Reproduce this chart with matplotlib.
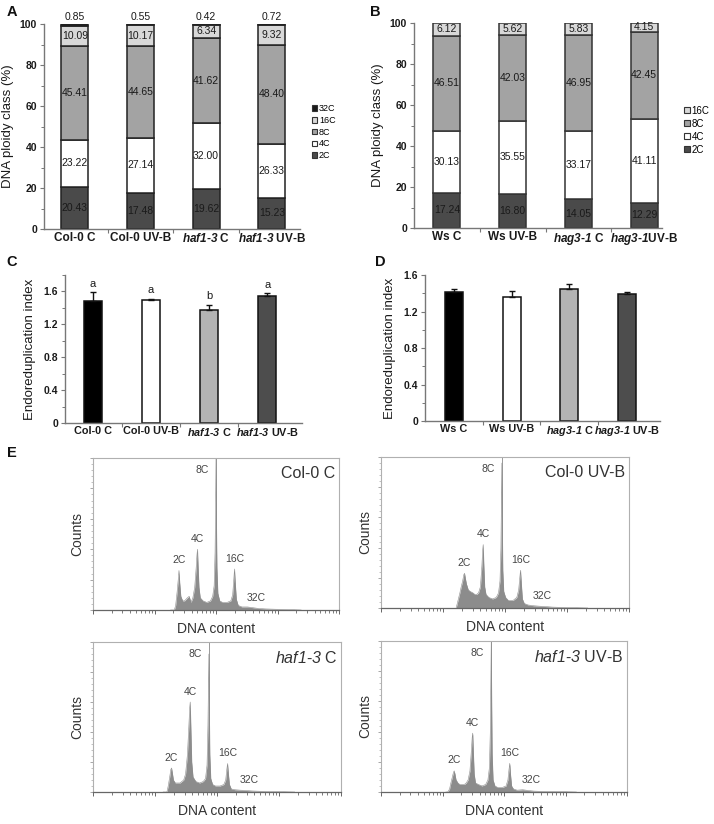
import matplotlib
matplotlib.use('Agg')
import matplotlib.pyplot as plt
import numpy as np
from matplotlib.patches import Patch
from matplotlib.ticker import MultipleLocator, FixedLocator, NullFormatter, FuncFormatter, LogLocator

plt.rcParams['font.family'] = ['Liberation Sans', 'DejaVu Sans']
plt.rcParams['mathtext.fontset'] = 'custom'
plt.rcParams['mathtext.it'] = 'Liberation Sans:italic:bold'
plt.rcParams['mathtext.rm'] = 'Liberation Sans:italic:bold'
plt.rcParams['mathtext.sf'] = 'Liberation Sans:italic'

# ---------------- data ----------------
ploidy_classes_A = ['2C', '4C', '8C', '16C', '32C']
labels_A = ['Col-0 C', 'Col-0 UV-B', r'$\mathit{haf1}$-$\mathit{3}$ C', r'$\mathit{haf1}$-$\mathit{3}$ UV-B']
pct_A_2C = [20.43, 17.48, 19.62, 15.23]
pct_A_4C = [23.22, 27.14, 32.00, 26.33]
pct_A_8C = [45.41, 44.65, 41.62, 48.40]
pct_A_16C = [10.09, 10.17, 6.34, 9.32]
pct_A_32C = [0.85, 0.55, 0.42, 0.72]

ploidy_classes_B = ['2C', '4C', '8C', '16C']
labels_B = ['Ws C', 'Ws UV-B', r'$\mathit{hag3}$-$\mathit{1}$ C', r'$\mathit{hag3}$-$\mathit{1}$UV-B']
pct_B_2C = [17.24, 16.80, 14.05, 12.29]
pct_B_4C = [30.13, 35.55, 33.17, 41.11]
pct_B_8C = [46.51, 42.03, 46.95, 42.45]
pct_B_16C = [6.12, 5.62, 5.83, 4.15]

labels_C = ['Col-0 C', 'Col-0 UV-B', r'$\mathit{haf1}$-$\mathit{3}$ C', r'$\mathit{haf1}$-$\mathit{3}$ UV-B']
endo_C = [1.48, 1.50, 1.37, 1.54]
endo_C_err = [0.11, 0.01, 0.07, 0.04]
letters_C = ['a', 'a', 'b', 'a']

labels_D = ['Ws C', 'Ws UV-B', r'$\mathit{hag3}$-$\mathit{1}$ C', r'$\mathit{hag3}$-$\mathit{1}$ UV-B']
endo_D = [1.41, 1.36, 1.45, 1.39]
endo_D_err = [0.04, 0.06, 0.05, 0.02]

# flow cytometry profiles: position in ploidy steps (0=2C,1=4C,2=8C,3=16C,4=32C)
ploidy_u = [-0.45, -0.35, -0.25, -0.18, -0.1, -0.04, 0.0, 0.04, 0.1, 0.2,
            0.3, 0.45, 0.55, 0.65, 0.75, 0.85, 0.93, 0.97, 1.0, 1.03,
            1.08, 1.15, 1.3, 1.5, 1.7, 1.82, 1.9, 1.95, 1.98, 2.0,
            2.02, 2.05, 2.1, 2.2, 2.35, 2.6, 2.8, 2.9, 2.96, 3.0,
            3.04, 3.1, 3.2, 3.4, 3.7, 4.0, 4.3, 4.7, 5.2, 6.0, 6.6]
counts_col0_C = [0, 0, 0, 3, 12, 20, 26, 18, 9, 6,
                 6, 8, 9, 5, 8, 15, 28, 36, 40, 30,
                 15, 8, 6, 5, 6, 9, 16, 38, 72, 100,
                 62, 28, 11, 6, 5, 5, 6, 10, 20, 27,
                 18, 7, 3, 2, 2, 1.5, 1, 0.7, 0.5, 0.3, 0]
counts_col0_UVB = [0, 5, 10, 14, 18, 22, 23, 20, 16, 12,
                   11, 10, 9, 9, 10, 14, 28, 38, 42, 30,
                   14, 9, 7, 6, 7, 10, 18, 40, 75, 96,
                   60, 25, 11, 7, 5, 5, 7, 12, 20, 25,
                   17, 6, 3, 2, 1.5, 1.2, 1, 0.6, 0.4, 0.2, 0]
counts_haf_C = [0, 0, 0, 4, 10, 15, 16, 13, 8, 6,
                6, 6, 7, 8, 12, 25, 45, 56, 60, 45,
                20, 10, 7, 6, 7, 9, 18, 45, 75, 92,
                60, 25, 9, 5, 4, 4, 5, 8, 15, 19,
                13, 5, 2, 1.5, 1.2, 1, 0.7, 0.5, 0.3, 0.2, 0]
counts_haf_UVB = [0, 0, 2, 6, 10, 13, 14, 12, 8, 6,
                  5, 5, 5, 6, 8, 14, 28, 36, 39, 28,
                  12, 6, 5, 4, 5, 8, 16, 40, 75, 100,
                  65, 25, 8, 4, 3, 3, 4, 8, 15, 19,
                  12, 4, 2, 1.2, 1.5, 1, 0.6, 0.4, 0.3, 0.2, 0]
channel_8C = [100, 89, 74, 62]
hist_titles = ['Col-0 C', 'Col-0 UV-B', r'$\mathsf{haf1}$-$\mathsf{3}$ C', r'$\mathsf{haf1}$-$\mathsf{3}$ UV-B']
peak_names = ['2C', '4C', '8C', '16C', '32C']

# ---------------- figure ----------------
W, H = 714, 824
fig = plt.figure(figsize=(W / 100, H / 100), dpi=100)


def ax_px(x0, y0, x1, y1):
    return fig.add_axes([x0 / W, 1 - y1 / H, (x1 - x0) / W, (y1 - y0) / H])


SPINE = '#777777'
TXT = '#1a1a1a'


def style_axes(ax, ncat):
    for s in ['top', 'right']:
        ax.spines[s].set_visible(False)
    for s in ['left', 'bottom']:
        ax.spines[s].set_color(SPINE)
        ax.spines[s].set_linewidth(1.0)
    ax.tick_params(axis='y', which='major', colors=SPINE, labelcolor=TXT, direction='out',
                   length=3, width=0.8, pad=2, labelsize=7.5)
    ax.tick_params(axis='y', which='minor', colors=SPINE, direction='out', length=2, width=0.7)
    for t in ax.get_yticklabels():
        t.set_fontweight('bold')
    ax.set_xticks(np.arange(ncat))
    ax.xaxis.set_minor_locator(FixedLocator(np.arange(ncat - 1) + 0.5))
    ax.tick_params(axis='x', which='major', length=0, pad=2, labelcolor=TXT)
    ax.tick_params(axis='x', which='minor', length=3, colors=SPINE, width=0.8)


def fmt_num(v, pos):
    return '0' if v == 0 else ('%g' % v)


col_stack = {'2C': '#4a4a4a', '4C': '#ffffff', '8C': '#a3a3a3', '16C': '#d8d8d8', '32C': '#1a1a1a'}

# ---- Panel A ----
axA = ax_px(44, 24, 300, 229)
xA = np.arange(4)
seriesA = [pct_A_2C, pct_A_4C, pct_A_8C, pct_A_16C, pct_A_32C]
bot = np.zeros(4)
for name, vals in zip(ploidy_classes_A, seriesA):
    vals = np.array(vals)
    axA.bar(xA, vals, 0.41, bottom=bot, color=col_stack[name], edgecolor='#222222', lw=1.1, zorder=2)
    for i in range(4):
        if name == '32C':
            axA.annotate('%.2f' % vals[i], (xA[i], 100), xytext=(0, 1.5), textcoords='offset points',
                         ha='center', va='bottom', fontsize=7.5, color=TXT)
        else:
            axA.text(xA[i], bot[i] + vals[i] / 2, '%.2f' % vals[i], ha='center', va='center',
                     fontsize=7.5, color=TXT, zorder=3)
    bot = bot + vals
axA.set_xlim(-0.47, 3.43)
axA.set_ylim(0, 100)
axA.yaxis.set_major_locator(MultipleLocator(20))
axA.yaxis.set_minor_locator(MultipleLocator(10))
axA.set_xticklabels(labels_A, fontsize=8.5, fontweight='bold')
style_axes(axA, 4)
axA.set_ylabel('DNA ploidy class (%)', fontsize=9.5, color=TXT, labelpad=4)
axA.legend(handles=[Patch(facecolor=col_stack[n], edgecolor='#333333', lw=0.8, label=n)
                    for n in ploidy_classes_A[::-1]],
           loc='upper left', bbox_to_anchor=(1.03, 0.63), frameon=False, fontsize=6.5,
           handlelength=0.55, handleheight=0.55, handletextpad=0.2, labelspacing=0.3, borderpad=0)

# ---- Panel B ----
axB = ax_px(414, 23, 662, 228)
seriesB = [pct_B_2C, pct_B_4C, pct_B_8C, pct_B_16C]
bot = np.zeros(4)
for name, vals in zip(ploidy_classes_B, seriesB):
    vals = np.array(vals)
    axB.bar(xA, vals, 0.41, bottom=bot, color=col_stack[name], edgecolor='#333333', lw=1.1, zorder=2)
    for i in range(4):
        axB.text(xA[i], bot[i] + vals[i] / 2, '%.2f' % vals[i], ha='center', va='center',
                 fontsize=7.5, color=TXT, zorder=3)
    bot = bot + vals
axB.set_xlim(-0.5, 3.27)
axB.set_ylim(0, 100)
axB.yaxis.set_major_locator(MultipleLocator(20))
axB.yaxis.set_minor_locator(MultipleLocator(10))
axB.set_xticklabels(labels_B, fontsize=8.5, fontweight='bold')
style_axes(axB, 4)
axB.set_ylabel('DNA ploidy class (%)', fontsize=9.5, color=TXT, labelpad=4)
axB.legend(handles=[Patch(facecolor=col_stack[n], edgecolor='#333333', lw=0.8, label=n)
                    for n in ploidy_classes_B[::-1]],
           loc='upper left', bbox_to_anchor=(1.07, 0.62), frameon=False, fontsize=7,
           handlelength=0.55, handleheight=0.55, handletextpad=0.2, labelspacing=0.3, borderpad=0)

# ---- Panel C / D ----
bar_cols = ['#000000', '#ffffff', '#b3b3b3', '#4d4d4d']


def endo_panel(box, vals, errs, labels, xlim, ylim, letters=None):
    ax = ax_px(*box)
    x = np.arange(4)
    ax.bar(x, vals, 0.31, color=bar_cols, edgecolor='#111111', lw=1.1, zorder=2)
    ax.errorbar(x, vals, yerr=[np.zeros(4), errs], fmt='none', ecolor='#111111',
                elinewidth=1.0, capsize=2.5, capthick=1.0, zorder=3)
    if letters:
        for i in range(4):
            ax.annotate(letters[i], (x[i], vals[i] + errs[i]), xytext=(0, 2.5),
                        textcoords='offset points', ha='center', va='bottom', fontsize=8, color=TXT)
    ax.set_xlim(*xlim)
    ax.set_ylim(*ylim)
    ax.yaxis.set_major_locator(MultipleLocator(0.4))
    ax.yaxis.set_minor_locator(MultipleLocator(0.2))
    ax.yaxis.set_major_formatter(FuncFormatter(fmt_num))
    ax.set_xticklabels(labels, fontsize=7.8, fontweight='bold')
    style_axes(ax, 4)
    ax.set_ylabel('Endoreduplication index', fontsize=9.5, color=TXT, labelpad=5)
    return ax


axC = endo_panel((65, 275, 302, 423), endo_C, endo_C_err, labels_C, (-0.48, 3.6), (0, 1.8), letters_C)
axD = endo_panel((425, 275, 660, 421), endo_D, endo_D_err, labels_D, (-0.5, 3.57), (0, 1.6))

# ---- Panel E ----
hist_boxes = [(93, 458, 339, 610), (381, 457, 629, 608), (93, 642, 341, 792), (381, 641, 627, 792)]
hist_counts = [counts_col0_C, counts_col0_UVB, counts_haf_C, counts_haf_UVB]
HCOL = '#8c8c8c'
u = np.array(ploidy_u)
for box, cnt, c8, title in zip(hist_boxes, hist_counts, channel_8C, hist_titles):
    ax = ax_px(*box)
    cnt = np.array(cnt, dtype=float)
    ch = c8 / 4.0 * 2.0 ** u
    ax.fill_between(ch, 0, cnt, color=HCOL, lw=0, zorder=2)
    ax.plot(ch, cnt, color=HCOL, lw=0.4, zorder=2)
    ax.axvline(c8, color='#999999', lw=0.7, zorder=1)
    ax.set_xscale('log')
    ax.set_xlim(1, 1e4)
    ax.set_ylim(0, 100)
    for s in ['top', 'right', 'left']:
        ax.spines[s].set_color('#b0b0b0')
        ax.spines[s].set_linewidth(0.8)
    ax.spines['bottom'].set_color('#666666')
    ax.spines['bottom'].set_linewidth(0.9)
    ax.xaxis.set_major_locator(LogLocator(base=10, numticks=10))
    ax.xaxis.set_minor_locator(LogLocator(base=10, subs=np.arange(2, 10), numticks=20))
    ax.xaxis.set_major_formatter(NullFormatter())
    ax.xaxis.set_minor_formatter(NullFormatter())
    ax.yaxis.set_major_locator(MultipleLocator(20))
    ax.yaxis.set_minor_locator(MultipleLocator(4))
    ax.yaxis.set_major_formatter(NullFormatter())
    ax.tick_params(axis='x', which='major', length=3, colors='#666666', width=0.7)
    ax.tick_params(axis='x', which='minor', length=1.8, colors='#666666', width=0.6)
    ax.tick_params(axis='y', which='major', length=2.5, colors='#999999', width=0.6)
    ax.tick_params(axis='y', which='minor', length=1.2, colors='#aaaaaa', width=0.5)
    ax.set_xlabel('DNA content', fontsize=10, color='#333333', labelpad=2)
    ax.set_ylabel('Counts', fontsize=10, color='#333333', labelpad=0)
    ax.text(0.985, 0.895, title, transform=ax.transAxes, ha='right', va='center',
            fontsize=11.5, color='#333333')
    # peak labels
    for k, nm in enumerate(peak_names):
        xk = c8 / 4.0 * 2.0 ** k
        yk = cnt[np.argmin(np.abs(u - k))]
        if nm == '8C':
            ax.annotate(nm, (xk, 100), xytext=(-10, -8.5), textcoords='offset points',
                        ha='center', va='center', fontsize=7.5, color='#444444')
        elif nm == '32C':
            ax.annotate(nm, (xk, 0), xytext=(2, 8.5), textcoords='offset points',
                        ha='center', va='center', fontsize=7.5, color='#444444')
        else:
            ax.annotate(nm, (xk, yk), xytext=(0, 7.5), textcoords='offset points',
                        ha='center', va='center', fontsize=7.5, color='#444444')

# panel letters
for lab, (px, py) in zip('ABCDE', [(12, 12), (375, 12), (12, 262), (380, 262), (12, 453)]):
    fig.text(px / W, 1 - py / H, lab, fontsize=10.5, fontweight='bold', ha='center', va='center', color='#111111')

fig.savefig('out.png', dpi=100, facecolor='white')
